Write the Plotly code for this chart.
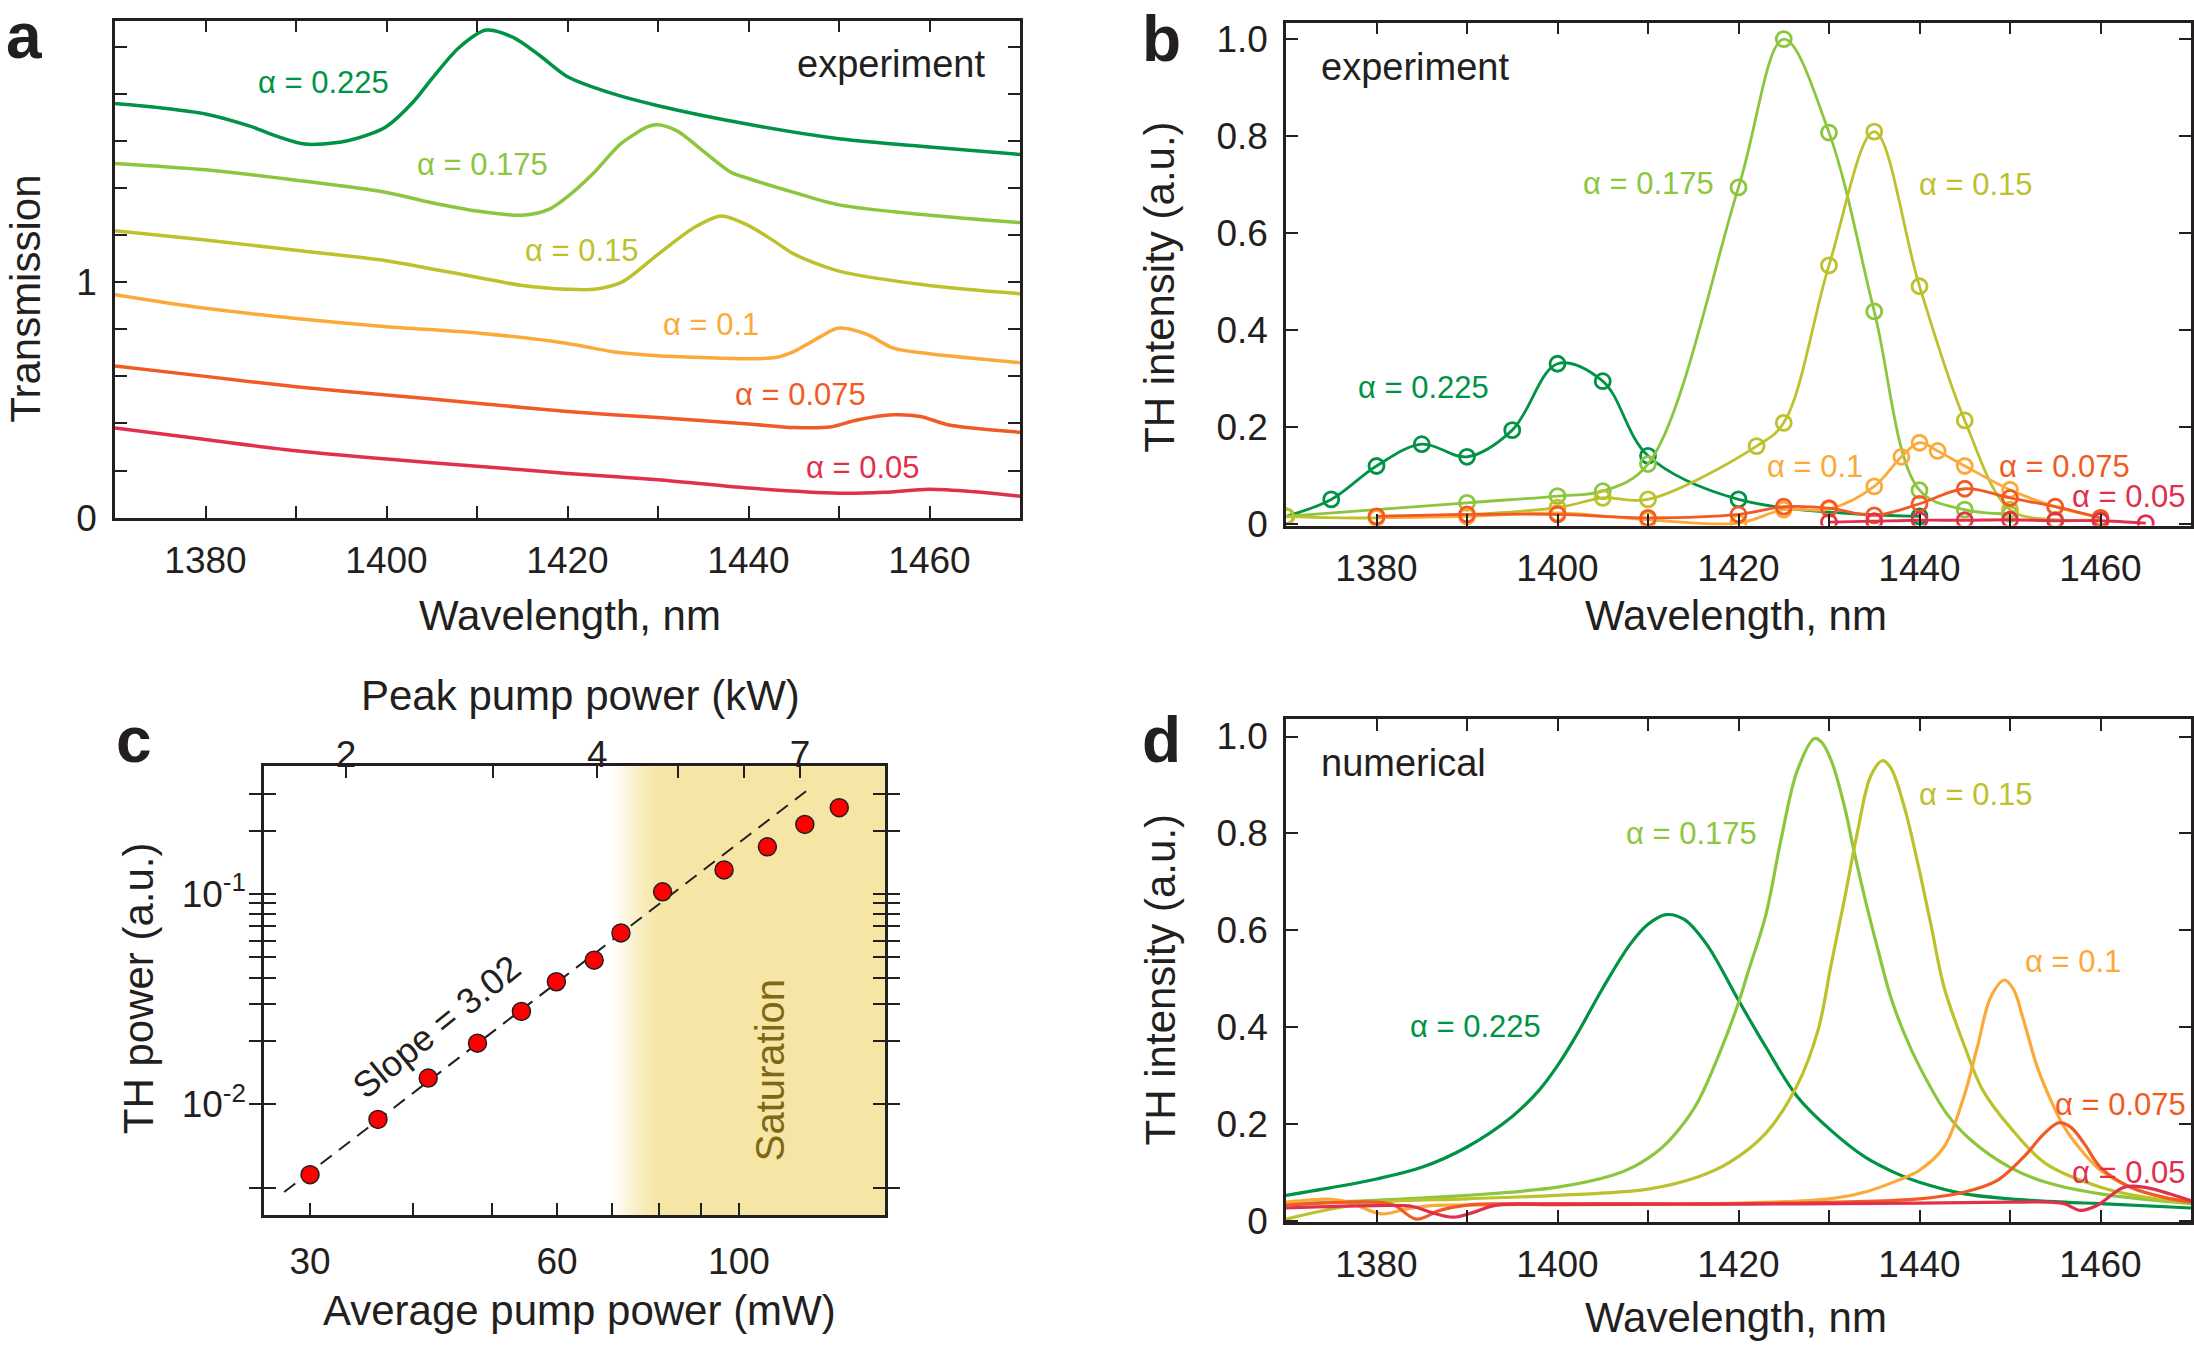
import plotly.graph_objects as go

W, H = 2194, 1355
FONT = "Liberation Sans, Arial, Helvetica, sans-serif"
INK = "#231f20"

# ---------------- data ----------------
alphas = ["0.225", "0.175", "0.15", "0.1", "0.075", "0.05"]
colors = {"0.225": "#009245", "0.175": "#8cc63f", "0.15": "#bcc12c",
          "0.1": "#fbaa3a", "0.075": "#f15a24", "0.05": "#e1304b"}

# panel a: transmission (experiment)
a_wl = {
    "0.225": [1370, 1375, 1380, 1385, 1388, 1391, 1395, 1398, 1400, 1403, 1405, 1408, 1411, 1414, 1417, 1420, 1425, 1430, 1440, 1450, 1460, 1470],
    "0.175": [1370, 1380, 1390, 1400, 1405, 1410, 1415, 1418, 1420, 1423, 1426, 1429.5, 1432, 1435, 1438, 1440, 1445, 1450, 1460, 1470],
    "0.15": [1370, 1380, 1390, 1400, 1405, 1410, 1415, 1420, 1423, 1426, 1430, 1434, 1437, 1440, 1443, 1445, 1450, 1460, 1470],
    "0.1": [1370, 1380, 1390, 1400, 1410, 1420, 1425, 1430, 1435, 1440, 1443, 1445, 1448, 1450, 1453, 1456, 1460, 1470],
    "0.075": [1370, 1380, 1390, 1400, 1410, 1420, 1430, 1440, 1445, 1449, 1452, 1456, 1459, 1462, 1470],
    "0.05": [1370, 1380, 1390, 1400, 1410, 1420, 1430, 1440, 1450, 1455, 1460, 1465, 1470],
}
a_tr = {
    "0.225": [1.758, 1.74, 1.714, 1.661, 1.618, 1.586, 1.595, 1.626, 1.661, 1.767, 1.863, 1.995, 2.07, 2.039, 1.96, 1.872, 1.80, 1.749, 1.67, 1.609, 1.574, 1.542],
    "0.175": [1.504, 1.477, 1.433, 1.381, 1.337, 1.302, 1.284, 1.31, 1.363, 1.468, 1.591, 1.667, 1.644, 1.556, 1.468, 1.44, 1.381, 1.328, 1.284, 1.253],
    "0.15": [1.218, 1.179, 1.135, 1.091, 1.056, 1.021, 0.986, 0.97, 0.97, 1.0, 1.118, 1.232, 1.281, 1.24, 1.17, 1.12, 1.047, 0.986, 0.951],
    "0.1": [0.947, 0.889, 0.846, 0.811, 0.784, 0.74, 0.705, 0.688, 0.68, 0.675, 0.68, 0.705, 0.77, 0.805, 0.78, 0.72, 0.696, 0.658],
    "0.075": [0.644, 0.6, 0.556, 0.521, 0.486, 0.451, 0.425, 0.398, 0.383, 0.385, 0.415, 0.437, 0.43, 0.395, 0.363],
    "0.05": [0.381, 0.332, 0.284, 0.249, 0.219, 0.188, 0.161, 0.126, 0.104, 0.108, 0.121, 0.11, 0.091],
}

# panel b: TH intensity (experiment, measured points)
b_wl = {
    "0.225": [1370, 1375, 1380, 1385, 1390, 1395, 1400, 1405, 1410, 1420, 1440],
    "0.175": [1370, 1390, 1400, 1405, 1410, 1420, 1425, 1430, 1435, 1440, 1445, 1450],
    "0.15": [1370, 1380, 1400, 1405, 1410, 1422, 1425, 1430, 1435, 1440, 1445, 1450, 1455, 1460],
    "0.1": [1380, 1390, 1400, 1410, 1420, 1425, 1430, 1435, 1438, 1440, 1442, 1445, 1450, 1455, 1460],
    "0.075": [1380, 1390, 1400, 1410, 1420, 1425, 1430, 1435, 1440, 1445, 1450, 1455, 1460],
    "0.05": [1430, 1435, 1440, 1445, 1450, 1455, 1460, 1465],
}
b_int = {
    "0.225": [0.015, 0.05, 0.119, 0.164, 0.138, 0.193, 0.33, 0.294, 0.14, 0.05, 0.015],
    "0.175": [0.015, 0.043, 0.057, 0.067, 0.123, 0.694, 1.0, 0.807, 0.438, 0.069, 0.029, 0.02],
    "0.15": [0.015, 0.012, 0.033, 0.053, 0.05, 0.16, 0.208, 0.533, 0.809, 0.49, 0.213, 0.029, 0.008, 0.008],
    "0.1": [0.012, 0.015, 0.022, 0.008, 0.001, 0.029, 0.03, 0.077, 0.138, 0.167, 0.15, 0.119, 0.07, 0.035, 0.012],
    "0.075": [0.015, 0.019, 0.019, 0.012, 0.019, 0.035, 0.032, 0.017, 0.041, 0.072, 0.053, 0.035, 0.012],
    "0.05": [0.003, 0.005, 0.007, 0.007, 0.008, 0.006, 0.006, 0.001],
}

# panel c: TH power vs pump power
avg_pump_mw = [30.0, 36.3, 41.8, 48.0, 54.3, 59.9, 66.6, 71.8, 80.7, 95.9, 108.3, 120.3, 132.5]
th_power = [0.00462, 0.00846, 0.0133, 0.0195, 0.0276, 0.0382, 0.0484, 0.0652, 0.1023, 0.130, 0.1674, 0.214, 0.257]
fit_mw = [27.9, 121.0]
fit_th = [0.00382, 0.31]
slope_text = "Slope = 3.02"
peak_kw_ticks = [2, 3, 4, 5, 6, 7]
peak_kw_text = ["2", "", "4", "", "", "7"]
avg_ticks = [30, 40, 50, 60, 70, 80, 90, 100]
avg_text = ["30", "", "", "60", "", "", "", "100"]
th_ticks = [0.004, 0.01, 0.02, 0.03, 0.04, 0.05, 0.06, 0.07, 0.08, 0.09, 0.1, 0.2, 0.3]
th_text = ["", "10<sup>-2</sup>", "", "", "", "", "", "", "", "", "10<sup>-1</sup>", "", ""]

# panel d: TH intensity (numerical)
d_wl = {
    "0.225": [1370, 1375, 1380, 1385, 1390, 1395, 1398, 1400, 1402, 1405, 1408, 1410, 1412, 1414, 1416.5, 1420, 1423, 1426.5, 1430, 1434, 1437.5, 1440, 1445, 1450, 1456, 1460, 1470],
    "0.175": [1370, 1380, 1390, 1400, 1406, 1408.5, 1411.5, 1413.5, 1415.5, 1418, 1420, 1421, 1423, 1424.7, 1426.5, 1428.4, 1429.1, 1430.2, 1431.7, 1432.8, 1434, 1435.4, 1436.8, 1438.3, 1440, 1443, 1445.7, 1450, 1454, 1460, 1470],
    "0.15": [1370, 1375, 1380, 1390, 1400, 1410, 1415.5, 1419, 1423, 1426.5, 1428.8, 1430.2, 1431.7, 1433.2, 1434.6, 1435.9, 1436.8, 1438.3, 1439.8, 1441.3, 1442.7, 1445, 1447, 1450, 1454, 1460, 1465, 1470],
    "0.1": [1370, 1375, 1377, 1380.5, 1383.3, 1386, 1390, 1400, 1410, 1420, 1430, 1434, 1437.6, 1440, 1442.7, 1444.9, 1446.4, 1447.9, 1449.4, 1450.4, 1451.5, 1453, 1454.5, 1456, 1458.2, 1460, 1463.3, 1467, 1470],
    "0.075": [1370, 1380, 1382, 1384.4, 1387, 1390, 1400, 1420, 1440, 1445, 1448.6, 1451.5, 1453.8, 1455.4, 1456.7, 1458.2, 1460, 1463.3, 1467, 1470],
    "0.05": [1370, 1380, 1384, 1386, 1388.5, 1390.7, 1393, 1400, 1420, 1440, 1450, 1454.5, 1456, 1457.8, 1459.6, 1462.6, 1464.8, 1467.7, 1470],
}
d_int = {
    "0.225": [0.052, 0.068, 0.086, 0.11, 0.152, 0.215, 0.27, 0.32, 0.38, 0.48, 0.57, 0.612, 0.632, 0.622, 0.57, 0.455, 0.359, 0.256, 0.19, 0.131, 0.097, 0.079, 0.055, 0.045, 0.038, 0.035, 0.026],
    "0.175": [0.035, 0.042, 0.052, 0.069, 0.093, 0.112, 0.15, 0.19, 0.245, 0.35, 0.45, 0.51, 0.63, 0.787, 0.93, 0.996, 0.99, 0.953, 0.856, 0.76, 0.663, 0.56, 0.463, 0.387, 0.318, 0.221, 0.166, 0.11, 0.079, 0.055, 0.035],
    "0.15": [0.003, 0.024, 0.038, 0.045, 0.052, 0.065, 0.09, 0.12, 0.18, 0.28, 0.394, 0.525, 0.663, 0.808, 0.918, 0.95, 0.936, 0.856, 0.739, 0.608, 0.483, 0.359, 0.269, 0.193, 0.117, 0.069, 0.048, 0.038],
    "0.1": [0.038, 0.044, 0.038, 0.014, 0.024, 0.031, 0.032, 0.034, 0.035, 0.036, 0.045, 0.059, 0.083, 0.104, 0.152, 0.256, 0.359, 0.463, 0.497, 0.477, 0.414, 0.318, 0.249, 0.193, 0.138, 0.104, 0.069, 0.048, 0.04],
    "0.075": [0.032, 0.038, 0.031, 0.003, 0.021, 0.032, 0.035, 0.035, 0.045, 0.059, 0.083, 0.131, 0.18, 0.202, 0.193, 0.159, 0.11, 0.069, 0.048, 0.038],
    "0.05": [0.026, 0.031, 0.029, 0.017, 0.007, 0.017, 0.031, 0.033, 0.034, 0.036, 0.038, 0.038, 0.035, 0.021, 0.031, 0.069, 0.069, 0.055, 0.041],
}

wl_ticks = [1380, 1390, 1400, 1410, 1420, 1430, 1440, 1450, 1460]
wl_text = ["1380", "", "1400", "", "1420", "", "1440", "", "1460"]
tr_ticks = [0, 0.2, 0.4, 0.6, 0.8, 1.0, 1.2, 1.4, 1.6, 1.8, 2.0]
tr_text = ["0", "", "", "", "", "1", "", "", "", "", ""]
int_ticks = [0, 0.2, 0.4, 0.6, 0.8, 1.0]
int_text = ["0", "0.2", "0.4", "0.6", "0.8", "1.0"]

# label positions (data coords)
a_lab = {"0.225": (1393.0, 1.846), "0.175": (1410.6, 1.498), "0.15": (1421.6, 1.135),
         "0.1": (1435.9, 0.819), "0.075": (1445.8, 0.521), "0.05": (1452.6, 0.214)}
b_lab = {"0.225": (1385.2, 0.28), "0.175": (1410.1, 0.702), "0.15": (1446.2, 0.70),
         "0.1": (1428.4, 0.117), "0.075": (1456.0, 0.117), "0.05": (1463.1, 0.055)}
d_lab = {"0.225": (1390.9, 0.40), "0.175": (1414.8, 0.80), "0.15": (1446.2, 0.88),
         "0.1": (1457.0, 0.535), "0.075": (1462.2, 0.24), "0.05": (1463.1, 0.10)}

# ---------------- figure ----------------
def fx(p):
    return p / W

def fy(p):
    return 1 - p / H

fig = go.Figure()

for a in alphas:
    fig.add_trace(go.Scatter(x=a_wl[a], y=a_tr[a], mode="lines", xaxis="x", yaxis="y",
                             line=dict(color=colors[a], width=3.5, shape="spline", smoothing=0.8),
                             showlegend=False, hoverinfo="skip"))
for a in alphas:
    fig.add_trace(go.Scatter(x=b_wl[a], y=b_int[a], mode="lines+markers", xaxis="x2", yaxis="y2",
                             line=dict(color=colors[a], width=2.8, shape="spline", smoothing=1.0),
                             marker=dict(symbol="circle-open", size=15, color=colors[a], line=dict(width=2.8)),
                             showlegend=False, hoverinfo="skip"))
for a in alphas:
    fig.add_trace(go.Scatter(x=d_wl[a], y=d_int[a], mode="lines", xaxis="x4", yaxis="y4",
                             line=dict(color=colors[a], width=3.2, shape="spline", smoothing=1.0),
                             showlegend=False, hoverinfo="skip"))

fig.add_trace(go.Scatter(x=fit_mw, y=fit_th, mode="lines", xaxis="x3", yaxis="y3",
                         line=dict(color=INK, width=2, dash="14px,9px"),
                         showlegend=False, hoverinfo="skip"))
fig.add_trace(go.Scatter(x=avg_pump_mw, y=th_power, mode="markers", xaxis="x3", yaxis="y3",
                         marker=dict(color="#ff0000", size=18, line=dict(color=INK, width=1.5)),
                         showlegend=False, hoverinfo="skip"))
fig.add_trace(go.Scatter(x=peak_kw_ticks, y=[None] * len(peak_kw_ticks), mode="lines",
                         xaxis="x5", yaxis="y3", showlegend=False, hoverinfo="skip"))

tickfont = dict(family=FONT, size=37, color=INK)


def ax(domain, rng, tv, tt, anchor, mirror="allticks", **kw):
    d = dict(domain=domain, range=rng, tickmode="array", tickvals=tv, ticktext=tt,
             ticks="inside", ticklen=12, tickwidth=2, tickcolor=INK,
             showline=True, linecolor=INK, linewidth=2.5, mirror=mirror,
             showgrid=False, zeroline=False, tickfont=tickfont, anchor=anchor,
             ticklabelstandoff=8)
    d.update(kw)
    return d


dom_a_x = [fx(115), fx(1020)]
dom_a_y = [fy(524), fy(18)]
dom_b_x = [fx(1286), fx(2191)]
dom_b_y = [fy(532), fy(20)]
dom_c_x = [fx(264), fx(885)]
dom_c_y = [fy(1234), fy(777)]
dom_d_x = [fx(1286), fx(2191)]
dom_d_y = [fy(1241), fy(729)]

fig.update_layout(
    width=W, height=H, margin=dict(l=0, r=0, t=0, b=0),
    paper_bgcolor="white", plot_bgcolor="white",
    font=dict(family=FONT, color=INK),
    xaxis=ax(dom_a_x, [1370, 1470], wl_ticks, wl_text, "y"),
    yaxis=ax(dom_a_y, [0, 2.11], tr_ticks, tr_text, "x"),
    xaxis2=ax(dom_b_x, [1370, 1470], wl_ticks, wl_text, "y2"),
    yaxis2=ax(dom_b_y, [-0.004, 1.034], int_ticks, int_text, "x2"),
    xaxis4=ax(dom_d_x, [1370, 1470], wl_ticks, wl_text, "y4"),
    yaxis4=ax(dom_d_y, [-0.003, 1.036], int_ticks, int_text, "x4"),
    xaxis3=ax(dom_c_x, [1.421, 2.178], avg_ticks, avg_text, "y3", mirror=False, type="log",
              ticklabelstandoff=12),
    yaxis3=ax(dom_c_y, [-2.528, -0.393], th_ticks, th_text, "x3", type="log"),
    xaxis5=ax(dom_c_x, [0.2028, 0.9469], peak_kw_ticks, peak_kw_text, "y3", mirror=False,
              type="log", overlaying="x3", side="top", ticklabelstandoff=-18),
)

ann = []
def label(text, x, y, size, color=INK, xref="paper", yref="paper", angle=0, xanchor="center", bold=False):
    ann.append(dict(text=("<b>%s</b>" % text) if bold else text, x=x, y=y, xref=xref, yref=yref,
                    showarrow=False, textangle=angle, xanchor=xanchor, yanchor="middle",
                    font=dict(family=FONT, size=size, color=color)))

for a in alphas:
    label("α = " + a, a_lab[a][0], a_lab[a][1], 31, colors[a], "x", "y")
    label("α = " + a, b_lab[a][0], b_lab[a][1], 31, colors[a], "x2", "y2")
    label("α = " + a, d_lab[a][0], d_lab[a][1], 31, colors[a], "x4", "y4")

label("experiment", 1466.3, 1.925, 38, INK, "x", "y", xanchor="right")
label("experiment", 1373.6, 0.943, 38, INK, "x2", "y2", xanchor="left")
label("numerical", 1373.6, 0.945, 38, INK, "x4", "y4", xanchor="left")

# axis titles
label("Wavelength, nm", fx(570), fy(624), 42)
label("Transmission", fx(26), fy(301), 42, angle=-90)
label("Wavelength, nm", fx(1736), fy(624), 42)
label("TH intensity (a.u.)", fx(1160), fy(290), 42, angle=-90)
label("Wavelength, nm", fx(1736), fy(1338), 42)
label("TH intensity (a.u.)", fx(1160), fy(995), 42, angle=-90)
label("Average pump power (mW)", fx(579), fy(1331), 42)
label("Peak pump power (kW)", fx(580), fy(705), 42)
label("TH power (a.u.)", fx(138), fy(1003), 42, angle=-90)

# panel c texts
label(slope_text, 0.278, 0.42, 36, INK, "x3 domain", "y3 domain", angle=-39)
label("Saturation", 0.815, 0.323, 40, "#7d6814", "x3 domain", "y3 domain", angle=-90)

# panel letters
label("a", fx(24), fy(34), 64, bold=True)
label("b", fx(1161), fy(37), 64, bold=True)
label("c", fx(134), fy(750), 64, bold=True)
label("d", fx(1161), fy(750), 64, bold=True)

fig.update_layout(annotations=ann)

# saturation gradient
SAT = "#f6e6a6"
shapes = []
f0, f1, n = 0.56, 0.632, 18
for i in range(n):
    shapes.append(dict(type="rect", xref="x3 domain", yref="y3 domain",
                       x0=f0 + (f1 - f0) * i / n, x1=f0 + (f1 - f0) * (i + 1) / n + 0.001,
                       y0=0, y1=1, fillcolor=SAT, opacity=(i + 0.5) / n, line=dict(width=0), layer="below"))
shapes.append(dict(type="rect", xref="x3 domain", yref="y3 domain", x0=f1, x1=1, y0=0, y1=1,
                   fillcolor=SAT, line=dict(width=0), layer="below"))
fig.update_layout(shapes=shapes)

fig.write_html("out.html")
